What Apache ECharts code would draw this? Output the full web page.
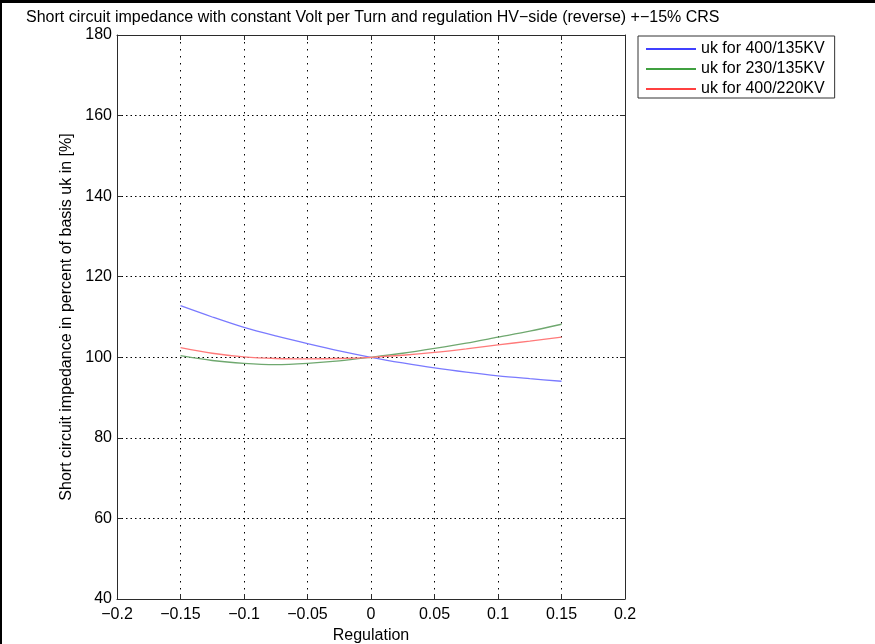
<!DOCTYPE html>
<html>
<head>
<meta charset="utf-8">
<style>
  html, body { margin: 0; padding: 0; background: #fff; }
  #chart { width: 875px; height: 644px; }
</style>
<script src="https://cdn.jsdelivr.net/npm/echarts@6/dist/echarts.min.js"></script>
</head>
<body>
<div id="chart"></div>
<script>
// Regulation steps (per unit)
const regulation = [-0.15, -0.125, -0.1, -0.075, -0.05, -0.025, 0, 0.025, 0.05, 0.075, 0.1, 0.125, 0.15];

// Short circuit impedance in percent of basis uk
const uk400_135 = [112.8, 110.0, 107.4, 105.3, 103.4, 101.6, 100.0, 98.6, 97.35, 96.3, 95.4, 94.7, 94.05];
const uk230_135 = [100.4, 99.2, 98.5, 98.2, 98.5, 99.1, 100.0, 101.0, 102.2, 103.5, 105.0, 106.5, 108.2];
const uk400_220 = [102.4, 101.0, 100.1, 99.7, 99.6, 99.7, 100.0, 100.5, 101.2, 102.1, 103.1, 104.0, 105.0];

const seriesNames = ['uk for 400/135KV', 'uk for 230/135KV', 'uk for 400/220KV'];
const seriesColors = ['#0000ff', '#008000', '#ff0000'];
const plotColors = ['#7a7aff', '#6fa86f', '#ff7a7a'];

const FONT = 'Liberation Sans, Arial, sans-serif';
const minusSign = v => String(v).replace('-', '\u2212');

function pairs(ys) {
  return regulation.map((x, i) => [x, ys[i]]);
}

// thin horizontal stroke as legend marker (invisible corner points keep its box full size)
const LEGEND_LINE = 'path://M0,0L0,0M0,6.8L50,6.8L50,8.2L0,8.2ZM50,15L50,15';

const frameColor = '#2b2b2b';
const gridDot = { color: '#000', width: 1 };

const chart = echarts.init(document.getElementById('chart'));
chart.setOption({
  animation: false,
  backgroundColor: '#fff',
  textStyle: { fontFamily: FONT },
  title: {
    text: 'Short circuit impedance with constant Volt per Turn and regulation HV\u2212side (reverse) +\u221215% CRS',
    left: 21, top: 5,
    textStyle: { fontFamily: FONT, fontSize: 16, fontWeight: 'normal', color: '#000' }
  },
  legend: {
    orient: 'vertical',
    left: 638, top: 36,
    padding: [5, 10, 1, 8],
    itemWidth: 50, itemHeight: 15, itemGap: 4,
    borderColor: '#333', borderWidth: 1,
    backgroundColor: '#fff',
    textStyle: { fontFamily: FONT, fontSize: 16, color: '#000' },
    data: seriesNames.map((n, i) => ({
      name: n,
      icon: LEGEND_LINE,
      itemStyle: { color: seriesColors[i], borderWidth: 0, opacity: 1 }
    }))
  },
  grid: { left: 117, right: 250, top: 35, bottom: 45, outerBoundsMode: 'none', containLabel: false },
  xAxis: [{
    type: 'value', min: -0.2, max: 0.2, interval: 0.05,
    name: 'Regulation', nameLocation: 'middle', nameGap: 27,
    nameTextStyle: { fontFamily: FONT, fontSize: 16, color: '#000' },
    axisLine: { show: true, onZero: false, lineStyle: { color: frameColor } },
    axisTick: { show: true, inside: true, length: 5, lineStyle: { color: frameColor } },
    axisLabel: { fontFamily: FONT, fontSize: 16, color: '#000', margin: 8,
                 formatter: v => minusSign(+v.toFixed(2)) },
    splitLine: { show: true, lineStyle: Object.assign({ type: [1.5, 5.5] }, gridDot) }
  }, {
    type: 'value', min: -0.2, max: 0.2, interval: 0.05, position: 'top',
    axisLine: { show: true, onZero: false, lineStyle: { color: frameColor } },
    axisTick: { show: true, inside: true, length: 5, lineStyle: { color: frameColor } },
    axisLabel: { show: false },
    splitLine: { show: false }
  }],
  yAxis: [{
    type: 'value', min: 40, max: 180, interval: 20,
    name: 'Short circuit impedance in percent of basis uk in [%]',
    nameLocation: 'middle', nameGap: 30,
    nameTextStyle: { fontFamily: FONT, fontSize: 16, color: '#000' },
    axisLine: { show: true, onZero: false, lineStyle: { color: frameColor } },
    axisTick: { show: true, inside: true, length: 5, lineStyle: { color: frameColor } },
    axisLabel: { fontFamily: FONT, fontSize: 16, color: '#000', margin: 5 },
    splitLine: { show: true, lineStyle: Object.assign({ type: [1.5, 3] }, gridDot) }
  }, {
    type: 'value', min: 40, max: 180, interval: 20, position: 'right',
    axisLine: { show: true, onZero: false, lineStyle: { color: frameColor } },
    axisTick: { show: true, inside: true, length: 5, lineStyle: { color: frameColor } },
    axisLabel: { show: false },
    splitLine: { show: false }
  }],
  series: [uk400_135, uk230_135, uk400_220].map((ys, i) => ({
    name: seriesNames[i],
    type: 'line',
    xAxisIndex: 0, yAxisIndex: 0,
    data: pairs(ys),
    smooth: 0.3,
    symbol: 'none',
    color: seriesColors[i],
    lineStyle: { width: 1.3, color: plotColors[i] },
    z: 3
  })),
  graphic: [
    { type: 'rect', left: 0, top: 0, shape: { width: 875, height: 3 }, style: { fill: '#000' }, silent: true },
    { type: 'rect', left: 0, top: 0, shape: { width: 2, height: 644 }, style: { fill: '#000' }, silent: true }
  ]
});
</script>
</body>
</html>
